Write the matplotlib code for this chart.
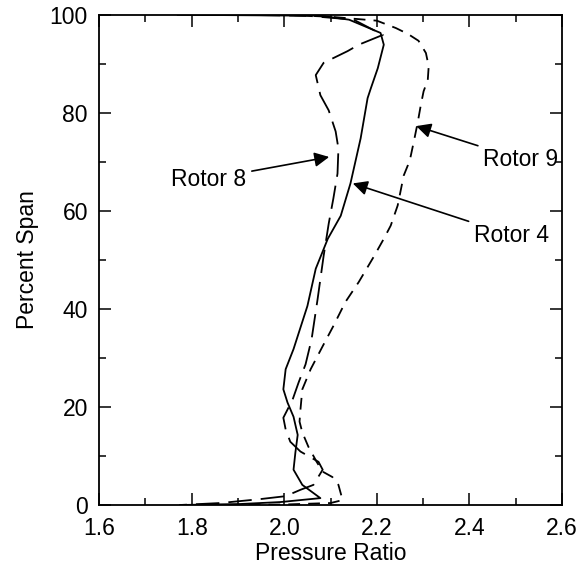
import matplotlib
matplotlib.use("Agg")
import matplotlib.pyplot as plt
from matplotlib.ticker import MultipleLocator

plt.rcParams['font.family'] = ['Liberation Sans', 'DejaVu Sans']

# Rotor 4 (solid)
rotor4_pr = [1.77, 1.93, 2.08, 2.14, 2.208, 2.215, 2.202, 2.187, 2.180, 2.165, 2.143,
             2.122, 2.094, 2.068, 2.050, 2.020, 2.003, 1.998, 2.007, 2.020, 2.029,
             2.024, 2.020, 2.039, 2.078, 1.992, 1.905, 1.775]
rotor4_span = [100.0, 99.9, 99.8, 99.0, 96.3, 93.9, 89.1, 85.0, 83.0, 74.8, 65.6,
               59.0, 54.3, 48.2, 40.6, 31.8, 27.7, 23.6, 20.9, 18.0, 14.3,
               10.7, 7.2, 4.1, 1.4, 0.6, 0.2, 0.0]

# Rotor 8 (long dash)
rotor8_pr = [1.80, 1.90, 2.05, 2.15, 2.213, 2.161, 2.137, 2.085, 2.068, 2.078, 2.096,
             2.111, 2.117, 2.115, 2.106, 2.096, 2.085, 2.072, 2.059, 2.046, 2.031,
             2.018, 1.998, 2.003, 2.013, 2.035, 2.074, 2.083, 2.063, 2.035, 2.003,
             1.948, 1.862, 1.775]
rotor8_span = [100.0, 100.0, 99.8, 99.0, 95.9, 93.9, 92.6, 90.2, 87.7, 83.6, 80.5,
               76.2, 72.7, 67.6, 62.5, 57.4, 50.8, 42.0, 33.8, 28.7, 25.0,
               21.5, 17.8, 15.4, 12.9, 10.9, 8.8, 7.2, 4.1, 3.1, 1.8,
               1.2, 0.4, 0.0]

# Rotor 9 (short dash)
rotor9_pr = [1.85, 2.00, 2.10, 2.20, 2.241, 2.267, 2.290, 2.306, 2.312, 2.310, 2.301,
             2.295, 2.288, 2.280, 2.273, 2.267, 2.258, 2.245, 2.230, 2.215, 2.193,
             2.161, 2.132, 2.106, 2.083, 2.057, 2.039, 2.035, 2.033, 2.039, 2.052,
             2.070, 2.083, 2.104, 2.117, 2.126, 2.10, 2.00, 1.85]
rotor9_span = [100.0, 100.0, 99.6, 98.8, 97.3, 96.1, 94.7, 92.2, 89.5, 86.7, 84.4,
               81.6, 77.9, 74.2, 71.1, 69.3, 67.2, 61.1, 57.0, 54.3, 50.6,
               45.5, 41.4, 36.5, 32.4, 27.7, 23.6, 19.5, 17.0, 14.8, 11.9,
               8.8, 6.8, 5.7, 4.1, 1.0, 0.4, 0.1, 0.0]

labels = ["Rotor 8", "Rotor 9", "Rotor 4"]
arrow_tips = [(2.097, 71.0), (2.285, 77.3), (2.148, 65.6)]
text_pos = [(1.918, 66.5), (2.43, 70.5), (2.41, 55.0)]
text_ha = ["right", "left", "left"]

fig = plt.figure(figsize=(5.83, 5.69), dpi=100)
ax = fig.add_axes([0.170, 0.1125, 0.794, 0.8615])

ax.plot(rotor4_pr, rotor4_span, color='black', lw=1.3)
ax.plot(rotor8_pr, rotor8_span, color='black', lw=1.3, dashes=(13, 5))
ax.plot(rotor9_pr, rotor9_span, color='black', lw=1.3, dashes=(6.5, 4.5))

for lab, tip, pos, ha in zip(labels, arrow_tips, text_pos, text_ha):
    ax.annotate(lab, xy=tip, xytext=pos, ha=ha, va='center', fontsize=16.5,
                arrowprops=dict(arrowstyle='-|>', color='black', lw=1.2,
                                mutation_scale=22, shrinkA=2, shrinkB=0))

ax.set_xlim(1.6, 2.6)
ax.set_ylim(0, 100)
ax.xaxis.set_minor_locator(MultipleLocator(0.1))
ax.yaxis.set_major_locator(MultipleLocator(20))
ax.yaxis.set_minor_locator(MultipleLocator(10))
ax.set_xticks([1.6, 1.8, 2.0, 2.2, 2.4, 2.6])
ax.set_xticklabels(["1.6", "1.8", "2.0", "2.2", "2.4", "2.6"])
ax.tick_params(which='both', direction='in', top=True, right=True, labelsize=16.5, width=1.1)
ax.tick_params(which='major', length=8.5)
ax.tick_params(which='minor', length=5)
ax.tick_params(axis='x', which='major', pad=9)
ax.tick_params(axis='y', which='major', pad=8)
for s in ax.spines.values():
    s.set_linewidth(1.3)

ax.set_xlabel("Pressure Ratio", fontsize=16.5, labelpad=1)
ax.set_ylabel("Percent Span", fontsize=16.5, labelpad=8)

fig.savefig("out.png", dpi=100)
